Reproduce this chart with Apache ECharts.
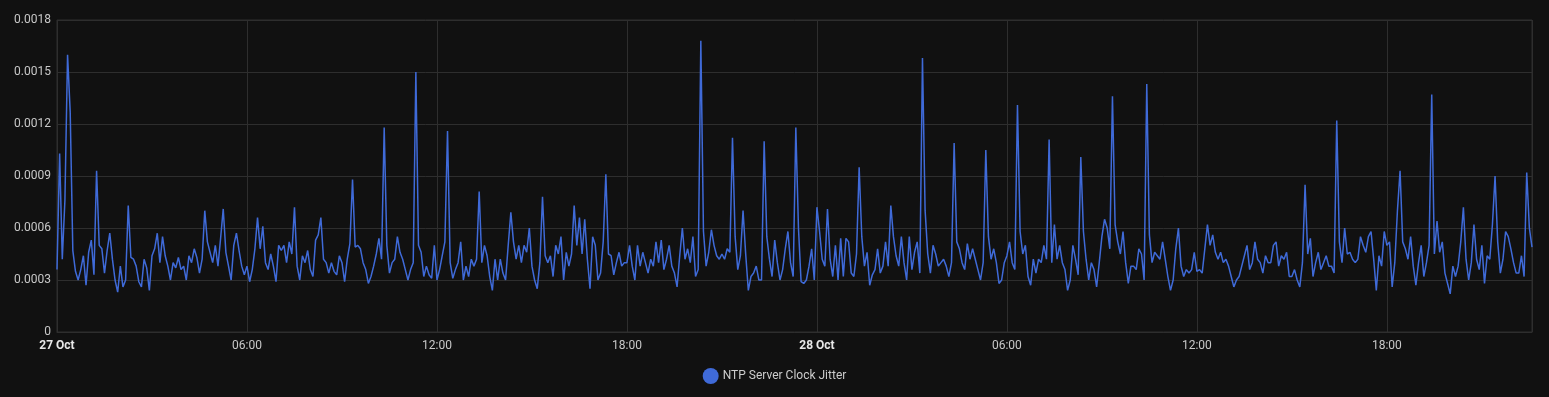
<!DOCTYPE html>
<html>
<head>
<meta charset="utf-8">
<script src="https://cdn.jsdelivr.net/npm/echarts@6/dist/echarts.min.js"></script>
<style>
html,body{margin:0;padding:0;background:#111111;}
#chart{width:1549px;height:397px;}
</style>
</head>
<body>
<div id="chart"></div>
<script>
// Series: NTP Server Clock Jitter, 5-minute samples starting 27 Oct 00:00
const seriesName = 'NTP Server Clock Jitter';
const startTime = Date.UTC(2023, 9, 27, 0, 0);
const stepMinutes = 5;
const monthNames = ['Jan','Feb','Mar','Apr','May','Jun','Jul','Aug','Sep','Oct','Nov','Dec'];
const yTicks = [0, 0.0003, 0.0006, 0.0009, 0.0012, 0.0015, 0.0018];

const jitter = [
0.00036,0.00103,0.00042,0.00076,0.00160,0.00127,0.00047,0.00035,0.00030,0.00036,0.00044,0.00027,
0.00046,0.00053,0.00033,0.00093,0.00050,0.00048,0.00034,0.00047,0.00057,0.00042,0.00030,0.00023,
0.00038,0.00026,0.00030,0.00073,0.00043,0.00042,0.00038,0.00029,0.00026,0.00042,0.00037,0.00024,
0.00044,0.00048,0.00057,0.00040,0.00055,0.00044,0.00038,0.00030,0.00040,0.00037,0.00043,0.00036,
0.00038,0.00030,0.00044,0.00040,0.00048,0.00043,0.00034,0.00042,0.00070,0.00052,0.00046,0.00040,
0.00050,0.00038,0.00054,0.00071,0.00046,0.00038,0.00030,0.00050,0.00057,0.00047,0.00038,0.00033,
0.00038,0.00029,0.00036,0.00048,0.00066,0.00048,0.00061,0.00040,0.00036,0.00045,0.00038,0.00029,
0.00050,0.00047,0.00050,0.00040,0.00052,0.00045,0.00072,0.00038,0.00030,0.00044,0.00040,0.00047,
0.00036,0.00032,0.00053,0.00056,0.00066,0.00042,0.00040,0.00034,0.00040,0.00035,0.00033,0.00044,
0.00040,0.00029,0.00042,0.00051,0.00088,0.00049,0.00050,0.00048,0.00040,0.00036,0.00028,0.00032,
0.00038,0.00045,0.00054,0.00042,0.00118,0.00050,0.00034,0.00040,0.00042,0.00055,0.00046,0.00042,
0.00036,0.00030,0.00036,0.00040,0.00150,0.00050,0.00046,0.00032,0.00038,0.00033,0.00031,0.00050,
0.00030,0.00036,0.00044,0.00052,0.00116,0.00040,0.00031,0.00036,0.00040,0.00052,0.00030,0.00038,
0.00032,0.00042,0.00038,0.00042,0.00081,0.00040,0.00050,0.00044,0.00032,0.00024,0.00042,0.00030,
0.00042,0.00034,0.00030,0.00050,0.00069,0.00052,0.00042,0.00050,0.00040,0.00050,0.00046,0.00060,
0.00038,0.00030,0.00025,0.00040,0.00078,0.00044,0.00040,0.00044,0.00032,0.00050,0.00045,0.00055,
0.00030,0.00046,0.00038,0.00045,0.00073,0.00050,0.00066,0.00045,0.00065,0.00042,0.00025,0.00055,
0.00050,0.00030,0.00034,0.00052,0.00091,0.00045,0.00044,0.00033,0.00040,0.00046,0.00038,0.00040,
0.00040,0.00050,0.00038,0.00030,0.00050,0.00038,0.00046,0.00040,0.00034,0.00042,0.00038,0.00052,
0.00040,0.00053,0.00036,0.00042,0.00050,0.00038,0.00034,0.00026,0.00044,0.00060,0.00042,0.00048,
0.00040,0.00055,0.00032,0.00036,0.00168,0.00058,0.00038,0.00046,0.00059,0.00050,0.00044,0.00042,
0.00045,0.00042,0.00048,0.00046,0.00112,0.00055,0.00036,0.00044,0.00070,0.00045,0.00024,0.00032,
0.00034,0.00038,0.00030,0.00030,0.00110,0.00055,0.00042,0.00032,0.00053,0.00040,0.00030,0.00036,
0.00048,0.00058,0.00040,0.00032,0.00118,0.00060,0.00029,0.00028,0.00030,0.00038,0.00048,0.00030,
0.00072,0.00058,0.00042,0.00038,0.00071,0.00042,0.00032,0.00050,0.00030,0.00054,0.00032,0.00054,
0.00052,0.00034,0.00032,0.00045,0.00095,0.00055,0.00038,0.00046,0.00027,0.00033,0.00036,0.00048,
0.00034,0.00038,0.00052,0.00038,0.00073,0.00055,0.00044,0.00038,0.00055,0.00040,0.00030,0.00055,
0.00036,0.00046,0.00052,0.00034,0.00158,0.00070,0.00045,0.00034,0.00050,0.00045,0.00038,0.00040,
0.00042,0.00038,0.00032,0.00040,0.00109,0.00052,0.00048,0.00040,0.00036,0.00051,0.00042,0.00048,
0.00042,0.00036,0.00030,0.00040,0.00105,0.00055,0.00042,0.00048,0.00040,0.00028,0.00030,0.00040,
0.00044,0.00052,0.00040,0.00036,0.00131,0.00058,0.00045,0.00050,0.00032,0.00027,0.00042,0.00034,
0.00042,0.00040,0.00050,0.00042,0.00111,0.00040,0.00062,0.00042,0.00050,0.00040,0.00036,0.00024,
0.00030,0.00050,0.00042,0.00033,0.00101,0.00058,0.00042,0.00030,0.00040,0.00036,0.00026,0.00040,
0.00055,0.00065,0.00060,0.00048,0.00136,0.00062,0.00052,0.00045,0.00058,0.00040,0.00028,0.00038,
0.00038,0.00036,0.00048,0.00045,0.00030,0.00143,0.00056,0.00040,0.00046,0.00044,0.00042,0.00052,
0.00042,0.00032,0.00024,0.00030,0.00048,0.00060,0.00038,0.00032,0.00036,0.00034,0.00036,0.00046,
0.00035,0.00036,0.00034,0.00048,0.00062,0.00050,0.00056,0.00046,0.00042,0.00046,0.00040,0.00042,
0.00038,0.00032,0.00026,0.00030,0.00032,0.00038,0.00044,0.00050,0.00036,0.00040,0.00052,0.00042,
0.00040,0.00034,0.00044,0.00040,0.00040,0.00050,0.00052,0.00038,0.00044,0.00042,0.00046,0.00032,
0.00032,0.00036,0.00030,0.00026,0.00040,0.00085,0.00045,0.00054,0.00032,0.00040,0.00046,0.00036,
0.00040,0.00044,0.00038,0.00038,0.00034,0.00122,0.00052,0.00040,0.00060,0.00045,0.00046,0.00042,
0.00040,0.00042,0.00055,0.00050,0.00046,0.00055,0.00058,0.00042,0.00024,0.00044,0.00038,0.00058,
0.00050,0.00052,0.00026,0.00040,0.00070,0.00093,0.00052,0.00048,0.00042,0.00055,0.00038,0.00027,
0.00040,0.00050,0.00032,0.00040,0.00050,0.00137,0.00045,0.00064,0.00046,0.00052,0.00034,0.00028,
0.00022,0.00038,0.00032,0.00038,0.00052,0.00072,0.00042,0.00030,0.00040,0.00062,0.00042,0.00036,
0.00050,0.00028,0.00044,0.00042,0.00062,0.00090,0.00052,0.00034,0.00042,0.00058,0.00055,0.00048,
0.00040,0.00034,0.00034,0.00044,0.00032,0.00092,0.00060,0.00049
];

const stepMs = stepMinutes * 60 * 1000;
const seriesData = jitter.map((v, i) => [startTime + i * stepMs, v]);
const endTime = startTime + (jitter.length - 1) * stepMs;

function pad(n){ return (n < 10 ? '0' : '') + n; }

const chart = echarts.init(document.getElementById('chart'), null, {renderer: 'canvas'});
chart.setOption({
  backgroundColor: '#111111',
  animation: false,
  textStyle: { fontFamily: 'Roboto, Inter, sans-serif' },
  grid: {
    left: 57, right: 17, top: 20, bottom: 65,
    show: true, borderColor: '#2e2e2e', borderWidth: 1,
    containLabel: false
  },
  legend: {
    data: [{ name: seriesName, icon: 'circle' }],
    top: 368,
    left: 'center',
    padding: 0,
    itemWidth: 16,
    itemHeight: 16,
    itemGap: 10,
    textStyle: { color: '#cccccc', fontSize: 12, fontFamily: 'Roboto, Inter, sans-serif', padding: [0, 0, 0, -1] }
  },
  xAxis: {
    type: 'value',
    min: startTime,
    max: endTime,
    interval: 6 * 3600 * 1000,
    axisLine: { show: true, lineStyle: { color: '#2e2e2e' } },
    axisTick: { show: false },
    splitLine: { show: true, lineStyle: { color: '#2e2e2e', width: 1 } },
    axisLabel: {
      color: '#c8c8c8',
      fontSize: 12,
      margin: 8,
      showMaxLabel: false,
      formatter: function (v) {
        const d = new Date(v);
        const h = d.getUTCHours(), m = d.getUTCMinutes();
        if (h === 0 && m === 0) {
          return '{b|' + d.getUTCDate() + ' ' + monthNames[d.getUTCMonth()] + '}';
        }
        return pad(h) + ':' + pad(m);
      },
      rich: { b: { fontWeight: 'bold', color: '#e8e8e8', fontSize: 12, fontFamily: 'Roboto, Inter, sans-serif' } }
    }
  },
  yAxis: {
    type: 'value',
    min: yTicks[0],
    max: yTicks[yTicks.length - 1],
    interval: 0.0003,
    axisLine: { show: false },
    axisTick: { show: false },
    splitLine: { show: true, lineStyle: { color: '#2e2e2e', width: 1 } },
    axisLabel: {
      color: '#c8c8c8',
      fontSize: 12,
      margin: 6,
      formatter: function (v) {
        if (Math.abs(v) < 1e-12) return '0';
        return v.toFixed(4);
      }
    }
  },
  series: [{
    name: seriesName,
    type: 'line',
    data: seriesData,
    showSymbol: false,
    symbol: 'circle',
    lineStyle: { color: '#3f6ad8', width: 1.5 },
    itemStyle: { color: '#3f6ad8' },
    emphasis: { disabled: true }
  }]
});
</script>
</body>
</html>
